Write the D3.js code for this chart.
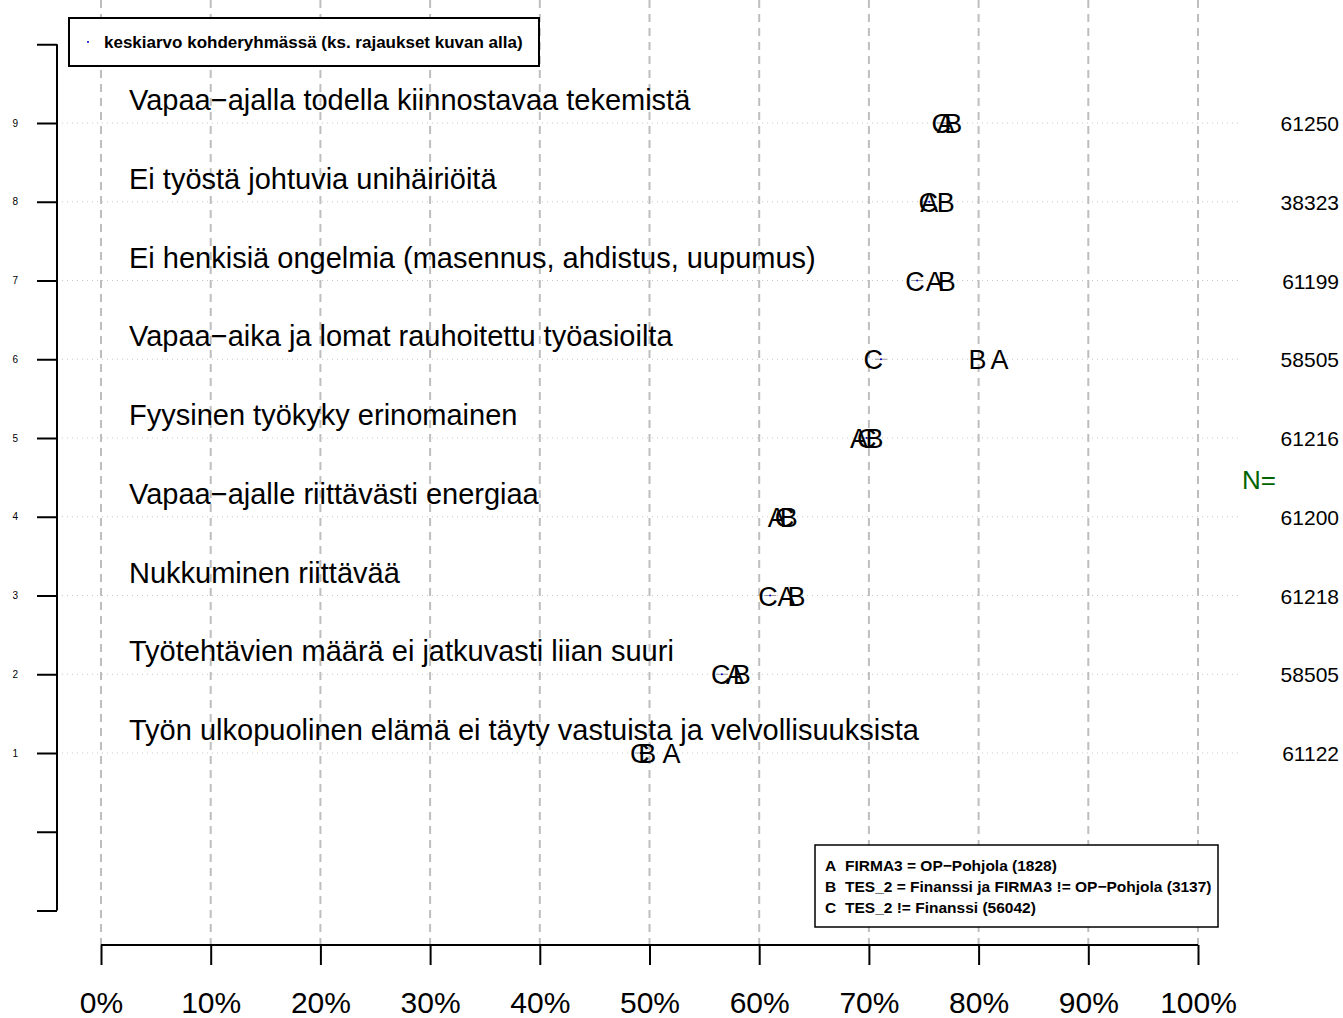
<!DOCTYPE html>
<style>
    body { margin: 0; background: #fff; }
    text { font-family: "Liberation Sans", arial, sans-serif; }
    .rowlabel { font-size: 29px; fill: #000; }
    .letter { font-size: 27px; fill: #000; }
    .nval { font-size: 21px; fill: #000; }
    .tick text { font-size: 30px; }
</style>
<body>
<script src="https://cdn.jsdelivr.net/npm/d3@7"></script>
<script>
// rows from bottom (1) to top (9)
var labels = [
    "Työn ulkopuolinen elämä ei täyty vastuista ja velvollisuuksista",
    "Työtehtävien määrä ei jatkuvasti liian suuri",
    "Nukkuminen riittävää",
    "Vapaa−ajalle riittävästi energiaa",
    "Fyysinen työkyky erinomainen",
    "Vapaa−aika ja lomat rauhoitettu työasioilta",
    "Ei henkisiä ongelmia (masennus, ahdistus, uupumus)",
    "Ei työstä johtuvia unihäiriöitä",
    "Vapaa−ajalla todella kiinnostavaa tekemistä"
];
var groupA = [52.0, 57.8, 62.5, 61.6, 69.1, 81.9, 76.0, 75.5, 77.0];
var groupB = [49.8, 58.4, 63.4, 62.7, 70.5, 79.9, 77.1, 77.0, 77.7];
var groupC = [49.1, 56.5, 60.8, 62.3, 69.8, 70.4, 74.2, 75.4, 76.6];
var target = [49.2, 56.6, 61.0, 62.3, 69.8, 71.1, 74.4, 75.5, 76.7];
var nValues = [61122, 58505, 61218, 61200, 61216, 58505, 61199, 38323, 61250];
var xTicks = [0, 10, 20, 30, 40, 50, 60, 70, 80, 90, 100];
var groupLegend = [
    ["A", "FIRMA3 = OP−Pohjola (1828)"],
    ["B", "TES_2 = Finanssi ja FIRMA3 != OP−Pohjola (3137)"],
    ["C", "TES_2 != Finanssi (56042)"]
];

var width = 1343, height = 1018;
var x = d3.scaleLinear().domain([0, 100]).range([101, 1198]);
var y = d3.scaleLinear().domain([1, 9]).range([753, 123]);

var svg = d3.select("body").append("svg")
    .attr("width", width)
    .attr("height", height);

// vertical dashed grid
svg.append("g").selectAll("line").data(xTicks).enter().append("line")
    .attr("x1", function(d) { return x(d); })
    .attr("x2", function(d) { return x(d); })
    .attr("y1", 0)
    .attr("y2", 945)
    .attr("stroke", "#bebebe")
    .attr("stroke-width", 2)
    .attr("stroke-dasharray", "8,6");

// horizontal dotted grid
svg.append("g").selectAll("line").data(d3.range(1, 10)).enter().append("line")
    .attr("x1", 57)
    .attr("x2", 1240)
    .attr("y1", function(d) { return y(d); })
    .attr("y2", function(d) { return y(d); })
    .attr("stroke", "#c8c8c8")
    .attr("stroke-width", 1)
    .attr("stroke-dasharray", "1,4");

// left axis
var yAxis = d3.axisLeft(y)
    .tickValues(d3.range(-1, 11))
    .tickSize(20)
    .tickPadding(20)
    .tickFormat(function(d) { return (d >= 1 && d <= 9) ? d : ""; });
var ya = svg.append("g")
    .attr("transform", "translate(57,0)")
    .call(yAxis);
ya.select(".domain").attr("stroke-width", 2).attr("d", "M0," + y(10) + "V" + y(-1));
ya.selectAll(".tick line").attr("stroke-width", 2);
ya.selectAll(".tick text").style("font-size", "10px").attr("x", -39);

// bottom axis
var xAxis = d3.axisBottom(x)
    .tickValues(xTicks)
    .tickSize(20)
    .tickFormat(function(d) { return d + "%"; });
var xa = svg.append("g")
    .attr("transform", "translate(0,945)")
    .call(xAxis);
xa.select(".domain").attr("stroke-width", 2).attr("d", "M" + x(0) + ",0H" + x(100));
xa.selectAll(".tick line").attr("stroke-width", 2);
xa.selectAll(".tick text").attr("y", 68).attr("dy", 0);

// row labels
svg.append("g").selectAll("text").data(labels).enter().append("text")
    .attr("class", "rowlabel")
    .attr("x", 129)
    .attr("y", function(d, i) { return y(i + 1) - 13; })
    .text(function(d) { return d; });

// target group means
var tg = svg.append("g");
tg.selectAll("line").data(target).enter().append("line")
    .attr("x1", function(d) { return x(d) - 6; })
    .attr("x2", function(d) { return x(d) + 6; })
    .attr("y1", function(d, i) { return y(i + 1); })
    .attr("y2", function(d, i) { return y(i + 1); })
    .attr("stroke", "#999")
    .attr("stroke-width", 1);
tg.selectAll("circle").data(target).enter().append("circle")
    .attr("cx", function(d) { return x(d); })
    .attr("cy", function(d, i) { return y(i + 1); })
    .attr("r", 1)
    .attr("fill", "#0000cc");

// group letters
function drawGroup(vals, letter) {
    svg.append("g").selectAll("text").data(vals).enter().append("text")
        .attr("class", "letter")
        .attr("x", function(d) { return x(d); })
        .attr("y", function(d, i) { return y(i + 1) + 10; })
        .attr("text-anchor", "middle")
        .text(letter);
}
drawGroup(groupC, "C");
drawGroup(groupA, "A");
drawGroup(groupB, "B");

// N values
svg.append("g").selectAll("text").data(nValues).enter().append("text")
    .attr("class", "nval")
    .attr("x", 1339)
    .attr("y", function(d, i) { return y(i + 1) + 8; })
    .attr("text-anchor", "end")
    .text(function(d) { return d; });
svg.append("text")
    .attr("x", 1242)
    .attr("y", 489)
    .style("font-size", "26px")
    .attr("fill", "#006400")
    .text("N=");

// top legend
svg.append("rect")
    .attr("x", 69).attr("y", 18)
    .attr("width", 470).attr("height", 48)
    .attr("fill", "#fff")
    .attr("stroke", "#000")
    .attr("stroke-width", 2);
svg.append("circle")
    .attr("cx", 88).attr("cy", 42).attr("r", 1)
    .attr("fill", "#0000cc");
svg.append("text")
    .attr("x", 104).attr("y", 48)
    .style("font-size", "17px")
    .style("font-weight", "bold")
    .text("keskiarvo kohderyhmässä (ks. rajaukset kuvan alla)");

// group legend
svg.append("rect")
    .attr("x", 815).attr("y", 845)
    .attr("width", 403).attr("height", 82)
    .attr("fill", "#fff")
    .attr("stroke", "#000")
    .attr("stroke-width", 1.5);
var gl = svg.append("g").selectAll("g").data(groupLegend).enter().append("g");
gl.append("text")
    .attr("x", 825)
    .attr("y", function(d, i) { return 871 + i * 21; })
    .style("font-size", "15.5px")
    .style("font-weight", "bold")
    .text(function(d) { return d[0]; });
gl.append("text")
    .attr("x", 845)
    .attr("y", function(d, i) { return 871 + i * 21; })
    .style("font-size", "15.5px")
    .style("font-weight", "bold")
    .text(function(d) { return d[1]; });
</script>
